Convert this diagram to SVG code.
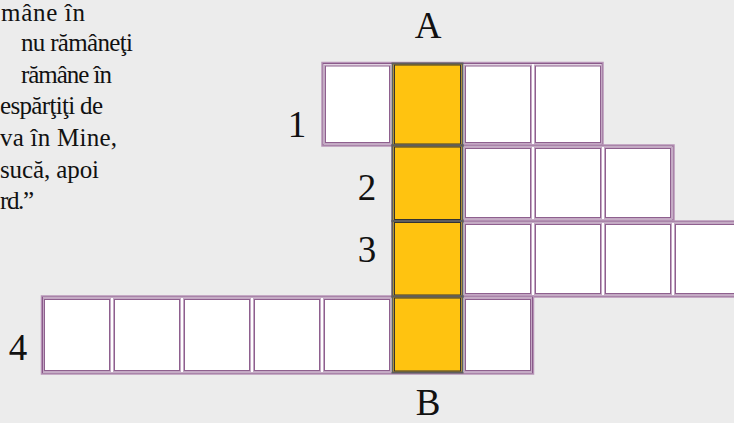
<svg xmlns="http://www.w3.org/2000/svg" width="734" height="423" viewBox="0 0 734 423">
<style>
.bg{fill:#ececec}
.txt{font-family:"Liberation Serif","DejaVu Serif","Times New Roman",serif;font-size:25px;fill:#111}
.lbl{font-family:"Liberation Serif","DejaVu Serif","Times New Roman",serif;font-size:37px;fill:#111;text-anchor:middle}
.tbl{fill:#fff;stroke:#b794b7;stroke-width:1.5}
.tbl2{fill:none;stroke:#8a5a8a;stroke-width:1}
.cellI{fill:#fff;stroke:#8e608e;stroke-width:1}
.cellO{fill:none;stroke:#c4a8c4;stroke-width:1}
.yel{fill:#ffc310;stroke:#5e5e5e;stroke-width:2}
.yelI{fill:none;stroke:#333;stroke-width:1}
</style>
<rect class="bg" x="0" y="0" width="734" height="423"/>
<g id="passage">
<text class="txt" x="1" y="21" textLength="84">mâne în</text>
<text class="txt" x="21" y="51" textLength="112">nu rămâneţi</text>
<text class="txt" x="21" y="83" textLength="91">rămâne în</text>
<text class="txt" x="0" y="114" textLength="103">espărţiţi de</text>
<text class="txt" x="0" y="146" textLength="117">va în Mine,</text>
<text class="txt" x="0" y="178" textLength="99">sucă, apoi</text>
<text class="txt" x="0" y="209" textLength="34">rd.”</text>
</g>
<g id="row1">
<rect class="tbl" x="322" y="62.5" width="281" height="83.5"/>
<rect class="tbl2" x="323" y="63.5" width="279" height="81.5"/>
<rect class="cellO" x="324.5" y="65" width="66" height="78.5"/>
<rect class="cellI" x="325.5" y="66" width="64" height="76.5"/>
<rect class="cellO" x="464.5" y="65" width="67" height="78.5"/>
<rect class="cellI" x="465.5" y="66" width="65" height="76.5"/>
<rect class="cellO" x="534.5" y="65" width="67" height="78.5"/>
<rect class="cellI" x="535.5" y="66" width="65" height="76.5"/>
</g>
<g id="row2">
<rect class="tbl" x="392" y="145" width="282" height="76"/>
<rect class="tbl2" x="393" y="146" width="280" height="74"/>
<rect class="cellO" x="464.5" y="147.5" width="67" height="71"/>
<rect class="cellI" x="465.5" y="148.5" width="65" height="69"/>
<rect class="cellO" x="534.5" y="147.5" width="67" height="71"/>
<rect class="cellI" x="535.5" y="148.5" width="65" height="69"/>
<rect class="cellO" x="604.5" y="147.5" width="67" height="71"/>
<rect class="cellI" x="605.5" y="148.5" width="65" height="69"/>
</g>
<g id="row3">
<rect class="tbl" x="392" y="221" width="350" height="76"/>
<rect class="tbl2" x="393" y="222" width="348" height="74"/>
<rect class="cellO" x="464.5" y="223.5" width="67" height="71"/>
<rect class="cellI" x="465.5" y="224.5" width="65" height="69"/>
<rect class="cellO" x="534.5" y="223.5" width="67" height="71"/>
<rect class="cellI" x="535.5" y="224.5" width="65" height="69"/>
<rect class="cellO" x="604.5" y="223.5" width="67" height="71"/>
<rect class="cellI" x="605.5" y="224.5" width="65" height="69"/>
<rect class="cellO" x="674.5" y="223.5" width="67" height="71"/>
<rect class="cellI" x="675.5" y="224.5" width="65" height="69"/>
</g>
<g id="row4">
<rect class="tbl" x="41.5" y="296" width="492" height="78"/>
<rect class="tbl2" x="42.5" y="297" width="490" height="76"/>
<rect class="cellO" x="43.5" y="298.5" width="67" height="73"/>
<rect class="cellI" x="44.5" y="299.5" width="65" height="71"/>
<rect class="cellO" x="113.5" y="298.5" width="67" height="73"/>
<rect class="cellI" x="114.5" y="299.5" width="65" height="71"/>
<rect class="cellO" x="183.5" y="298.5" width="67" height="73"/>
<rect class="cellI" x="184.5" y="299.5" width="65" height="71"/>
<rect class="cellO" x="253.5" y="298.5" width="67" height="73"/>
<rect class="cellI" x="254.5" y="299.5" width="65" height="71"/>
<rect class="cellO" x="323.5" y="298.5" width="67" height="73"/>
<rect class="cellI" x="324.5" y="299.5" width="65" height="71"/>
<rect class="cellO" x="464.5" y="298.5" width="67" height="73"/>
<rect class="cellI" x="465.5" y="299.5" width="65" height="71"/>
</g>
<g id="column-AB">
<rect class="yel" x="392.5" y="63.5" width="70" height="82"/>
<rect class="yelI" x="394.5" y="65" width="66" height="79"/>
<rect class="yel" x="392.5" y="145.5" width="70" height="75.5"/>
<rect class="yelI" x="394.5" y="147" width="66" height="72.5"/>
<rect class="yel" x="392.5" y="221" width="70" height="75.5"/>
<rect class="yelI" x="394.5" y="222.5" width="66" height="72.5"/>
<rect class="yel" x="392.5" y="296.5" width="70" height="76"/>
<rect class="yelI" x="394.5" y="298" width="66" height="73"/>
</g>
<g id="labels">
<text class="lbl" x="428" y="38">A</text>
<text class="lbl" x="428" y="415">B</text>
<text class="lbl" x="297" y="137">1</text>
<text class="lbl" x="367" y="200">2</text>
<text class="lbl" x="367" y="262">3</text>
<text class="lbl" x="18" y="360">4</text>
</g>
<g id="connectors"></g>
</svg>
